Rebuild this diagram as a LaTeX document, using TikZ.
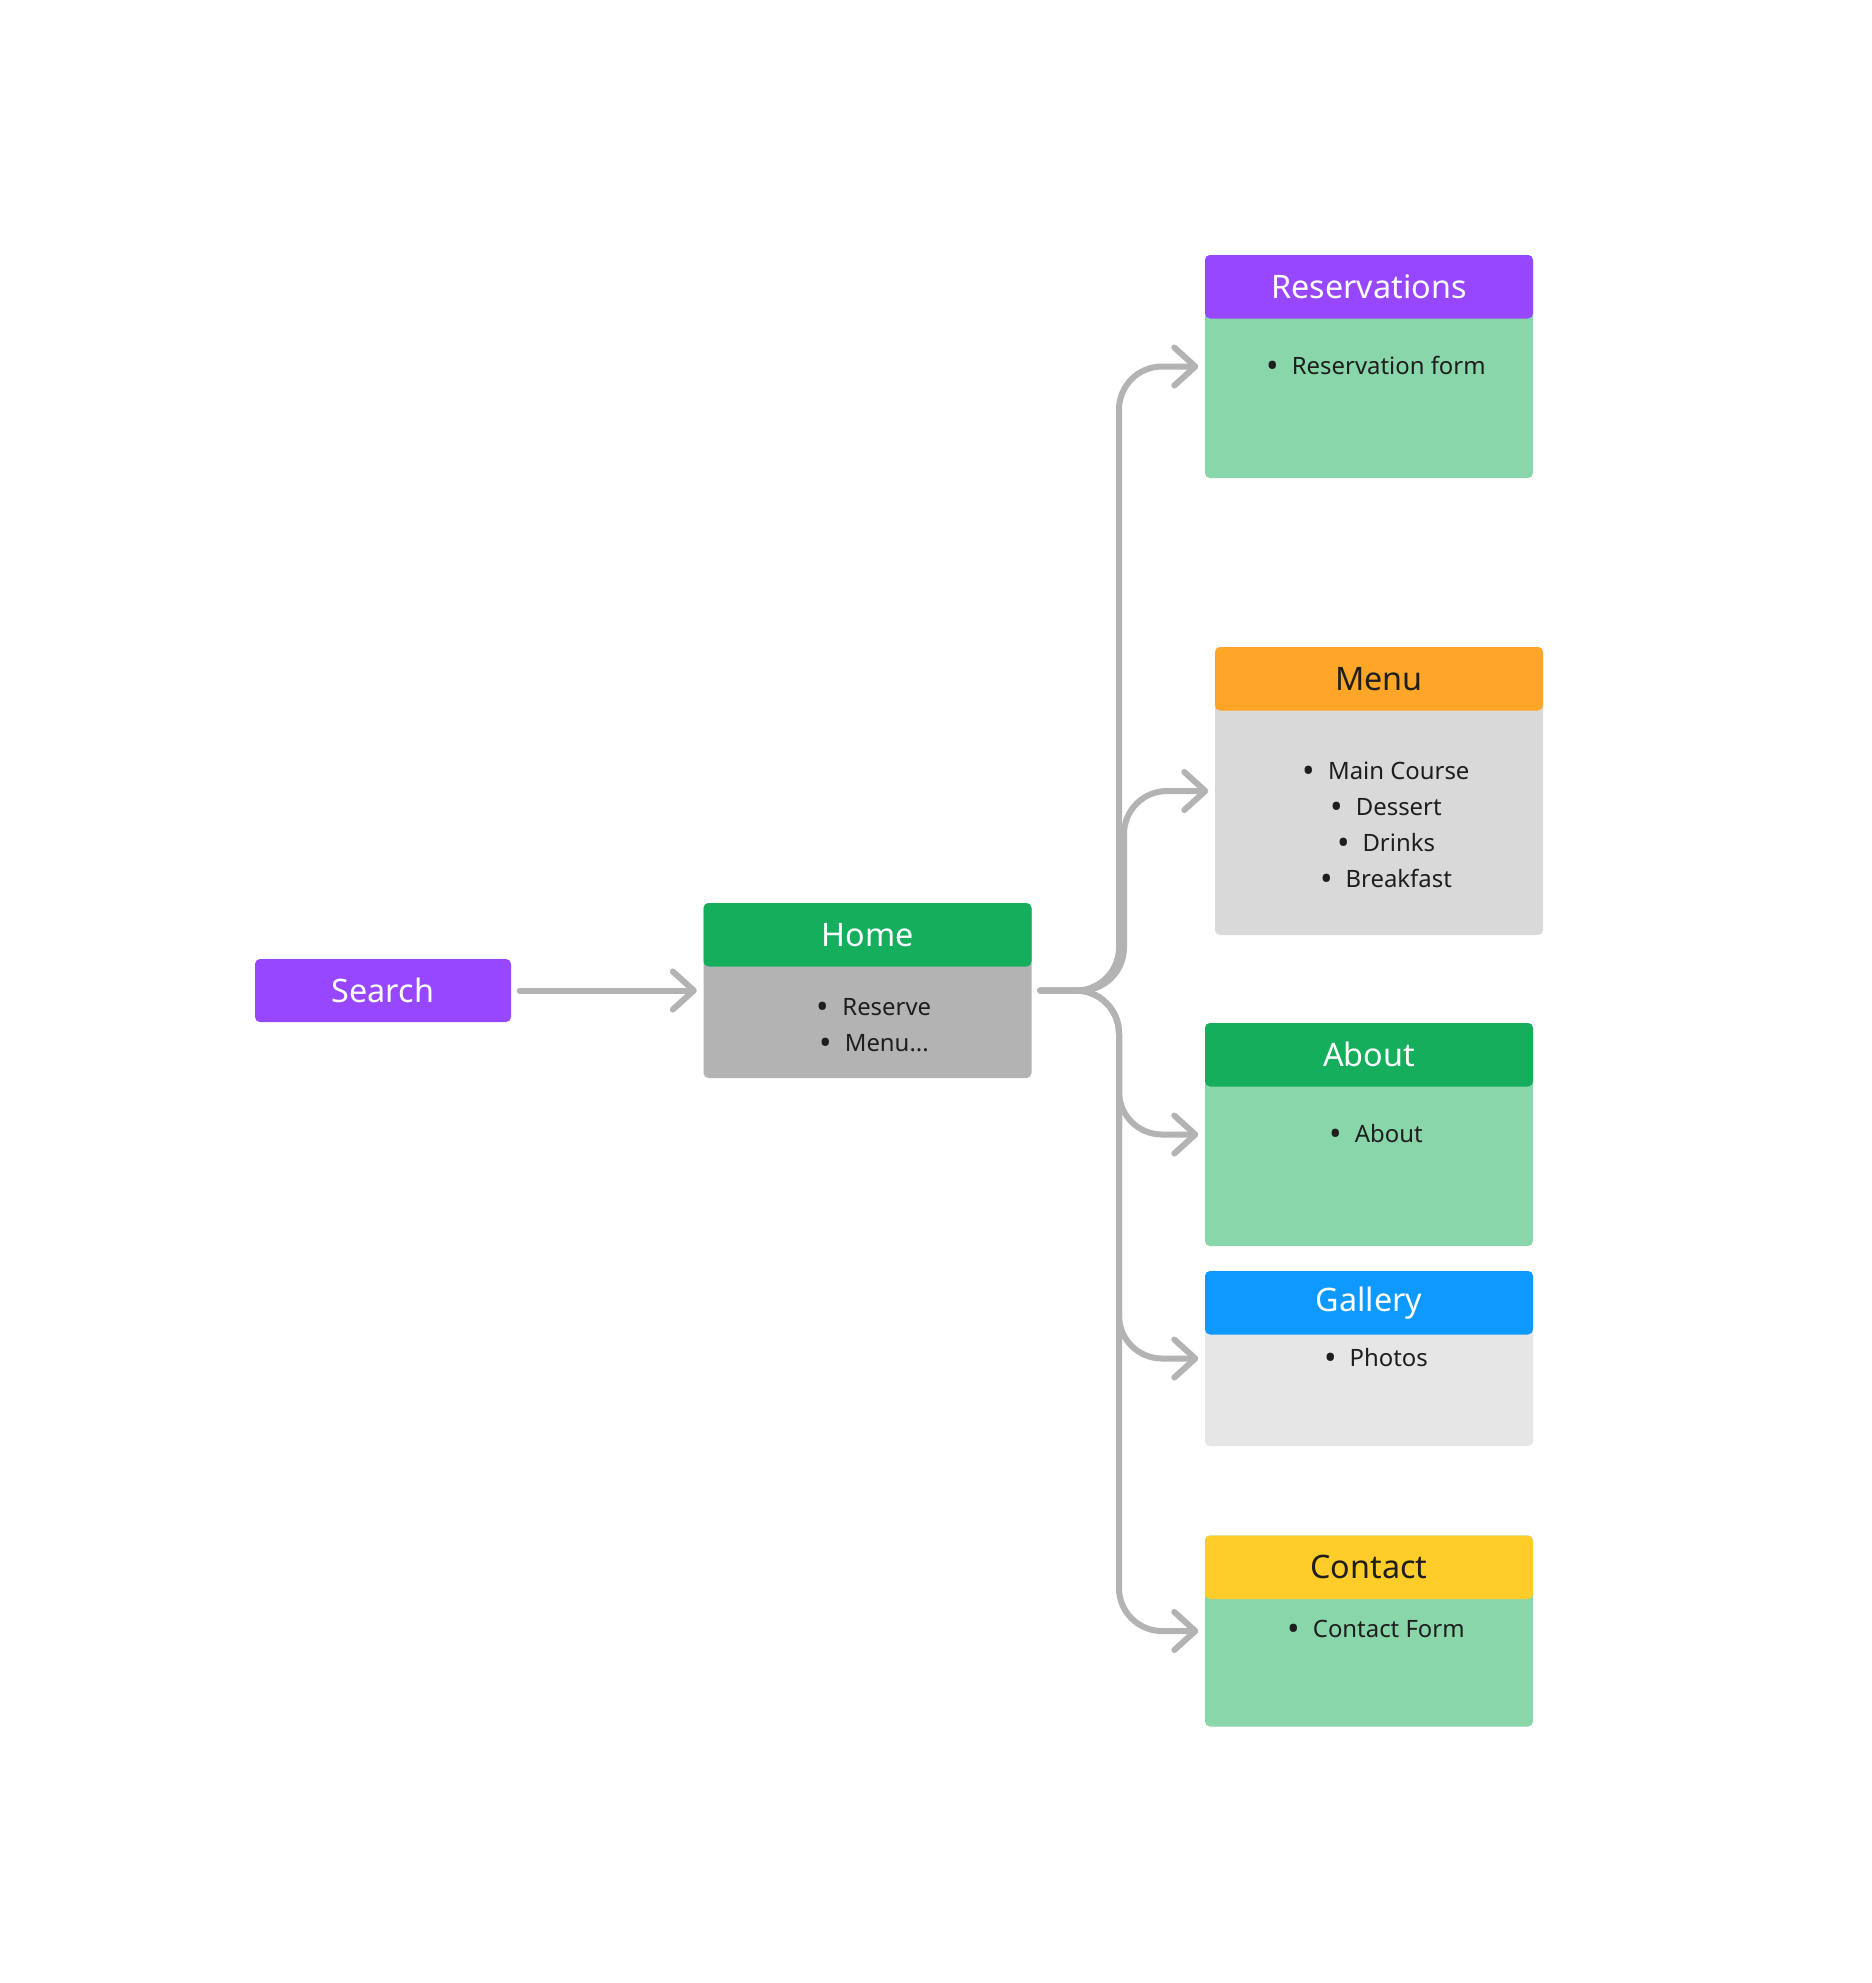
\documentclass[tikz,border=0pt]{standalone}
\usepackage{fontspec}
\setmainfont{Noto Sans}
\usepackage{xcolor}
\usetikzlibrary{positioning, arrows.meta, calc}

\definecolor{cPurple}{HTML}{9747FF}
\definecolor{cGreen}{HTML}{14AE5C}
\definecolor{cOrange}{HTML}{FFA629}
\definecolor{cBlue}{HTML}{0D99FF}
\definecolor{cYellow}{HTML}{FFCD29}
\definecolor{cMint}{HTML}{8AD6AB}
\definecolor{cGray}{HTML}{B3B3B3}
\definecolor{cSilver}{HTML}{D9D9D9}
\definecolor{cPale}{HTML}{E6E6E6}
\definecolor{cInk}{HTML}{1E1E1E}
\definecolor{cLine}{HTML}{B3B3B3}

\tikzset{
    card/.style={rectangle, rounded corners=0.5mm, inner sep=0pt, minimum width=32.8mm},
    head/.style={card, minimum height=6.35mm, font=\fontsize{9.2}{11}\selectfont, text=white},
    item/.style={font=\fontsize{6.8}{10.2}\selectfont, text=cInk, align=center},
    link/.style={draw=cLine, line width=0.6mm, rounded corners=4.3mm, line cap=round,
        shorten <=0.8mm, shorten >=0.6mm, -{Straight Barb[length=2.1mm, width=3.8mm, round]}},
}
\newcommand{\itm}[1]{\raisebox{-0.9pt}{\fontsize{9.5}{10.2}\selectfont\textbullet}\hspace{1.3mm}#1}

\begin{document}
\begin{tikzpicture}[x=0.1mm, y=-0.1mm]
    \useasboundingbox[fill=white] (0,0) rectangle (1872,1983);

    % Search
    \node[head, fill=cPurple, minimum width=25.6mm, minimum height=6.3mm] (search) at (383,990.5) {Search};

    % Home
    \node[card, fill=cGray, minimum height=17.5mm] (home) at (867.5,990.5) {};
    \node[head, fill=cGreen, anchor=north] (home-h) at (home.north) {Home};
    \node[item] (home-t) at (874,1026.5) {\itm{Reserve}\\\itm{Menu...}};

    % Reservations
    \node[card, fill=cMint, minimum height=22.3mm] (res) at (1369,366.5) {};
    \node[head, fill=cPurple, anchor=north] (res-h) at (res.north) {Reservations};
    \node[item] (res-t) at (1376,367) {\itm{Reservation form}};

    % Menu
    \node[card, fill=cSilver, minimum height=28.8mm] (menu) at (1379,791) {};
    \node[head, fill=cOrange, anchor=north, text=cInk] (menu-h) at (menu.north) {Menu};
    \node[item] (menu-t) at (1386,826) {\itm{Main Course}\\\itm{Dessert}\\\itm{Drinks}\\\itm{Breakfast}};

    % About
    \node[card, fill=cMint, minimum height=22.3mm] (about) at (1369,1134.5) {};
    \node[head, fill=cGreen, anchor=north] (about-h) at (about.north) {About};
    \node[item] (about-t) at (1376,1135) {\itm{About}};

    % Gallery
    \node[card, fill=cPale, minimum height=17.5mm] (gallery) at (1369,1358.5) {};
    \node[head, fill=cBlue, anchor=north] (gallery-h) at (gallery.north) {Gallery};
    \node[item] (gallery-t) at (1376,1358.5) {\itm{Photos}};

    % Contact
    \node[card, fill=cMint, minimum height=19.1mm] (contact) at (1369,1631) {};
    \node[head, fill=cYellow, anchor=north, text=cInk] (contact-h) at (contact.north) {Contact};
    \node[item] (contact-t) at (1376,1630.5) {\itm{Contact Form}};

    % Connectors
    \coordinate (trunk) at (1119,990.5);
    \coordinate (trunkm) at (1124,990.5);
    \draw[link] (search.east) -- (home.west);
    \draw[link] (home.east) -- (trunkm) |- (menu.west);
    \foreach \n in {res, about, gallery, contact} {
        \draw[link] (home.east) -- (trunk) |- (\n.west);
    }
\end{tikzpicture}
\end{document}
